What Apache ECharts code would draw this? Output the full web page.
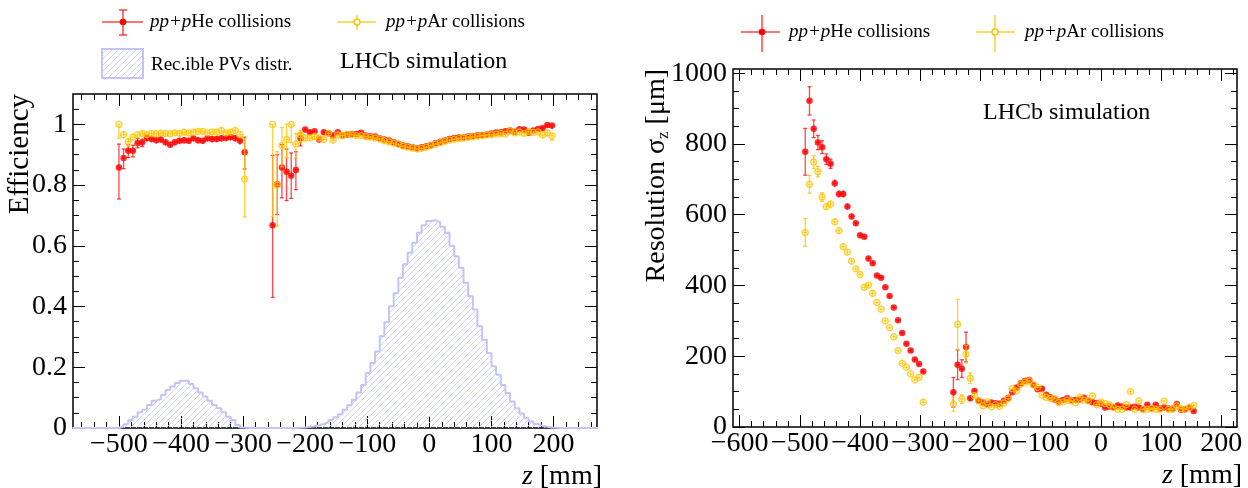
<!DOCTYPE html>
<html><head><meta charset="utf-8">
<script src="https://cdn.jsdelivr.net/npm/echarts@6/dist/echarts.min.js"></script>
<style>html,body{margin:0;padding:0;background:#fff}#c{width:1248px;height:488px}</style>
</head><body><div id="c"></div>
<script>
// ---------------- DATA ----------------
// Left panel: efficiency vs z
const effZ = [-500,-492.5,-485,-477.5,-470,-462.5,-455,-447.5,-440,-432.5,-425,-417.5,-410,-402.5,-395,-387.5,-380,-372.5,-365,-357.5,-350,-342.5,-335,-327.5,-320,-312.5,-305,-297.5,
 -252.5,-245,-237.5,-230,-222.5,-215,-207.5,-200,-192.5,-185,-177.5,-170,-162.5,-155,-147.5,-140,-132.5,-125,-117.5,-110,-102.5,-95,-87.5,-80,-72.5,-65,-57.5,-50,-42.5,-35,-27.5,-20,-12.5,-5,2.5,10,17.5,25,32.5,40,47.5,55,62.5,70,77.5,85,92.5,100,107.5,115,122.5,130,137.5,145,152.5,160,167.5,175,182.5,190,197.5];
const effHe = [0.858,0.889,0.913,0.913,0.939,0.941,0.955,0.952,0.948,0.950,0.941,0.933,0.941,0.946,0.948,0.946,0.954,0.948,0.946,0.954,0.952,0.952,0.954,0.955,0.958,0.954,0.946,0.908,
 0.668,0.803,0.858,0.844,0.831,0.850,0.954,0.983,0.974,0.977,0.950,0.974,0.971,0.963,0.974,0.963,0.966,0.968,0.968,0.972,0.963,0.961,0.960,0.954,0.950,0.947,0.941,0.936,0.930,0.928,0.925,0.921,0.925,0.928,0.932,0.938,0.943,0.947,0.952,0.955,0.957,0.957,0.960,0.962,0.964,0.965,0.967,0.970,0.973,0.974,0.977,0.980,0.976,0.984,0.983,0.972,0.980,0.985,0.988,0.998,0.996];
const effHeErrLo = [0.104,0.035,0.022,0.020,0.016,0.014,0.012,0.012,0.011,0.011,0.011,0.011,0.011,0.011,0.011,0.011,0.011,0.011,0.011,0.011,0.011,0.011,0.011,0.011,0.011,0.011,0.013,0.055,
 0.238,0.100,0.100,0.095,0.075,0.065,0.025,0.010,0.009,0.009,0.009,0.009,0.008,0.008,0.008,0.008,0.008,0.007,0.007,0.007,0.007,0.006,0.006,0.006,0.006,0.006,0.006,0.005,0.005,0.005,0.005,0.005,0.005,0.005,0.005,0.005,0.005,0.005,0.005,0.005,0.005,0.006,0.006,0.006,0.006,0.006,0.006,0.006,0.006,0.007,0.007,0.007,0.007,0.008,0.008,0.008,0.009,0.009,0.010,0.010,0.012];
const effHeErrHi = [0.077,0.030,0.020,0.018,0.015,0.013,0.011,0.011,0.010,0.010,0.010,0.010,0.010,0.010,0.010,0.010,0.010,0.010,0.010,0.010,0.010,0.010,0.010,0.010,0.010,0.010,0.012,0.050,
 0.230,0.097,0.075,0.075,0.075,0.060,0.018,0.008,0.008,0.008,0.008,0.008,0.007,0.007,0.007,0.007,0.007,0.006,0.006,0.006,0.006,0.005,0.005,0.005,0.005,0.005,0.005,0.005,0.005,0.005,0.005,0.005,0.005,0.005,0.005,0.005,0.005,0.005,0.005,0.005,0.005,0.005,0.005,0.005,0.005,0.005,0.005,0.005,0.005,0.005,0.005,0.005,0.005,0.005,0.005,0.005,0.005,0.005,0.005,0.002,0.004];
const effAr = [1.000,0.966,0.943,0.958,0.966,0.970,0.966,0.970,0.969,0.971,0.970,0.969,0.972,0.970,0.974,0.972,0.974,0.977,0.977,0.972,0.975,0.974,0.980,0.972,0.974,0.980,0.966,0.820,
 1.000,0.800,0.930,0.950,1.000,0.935,0.965,0.955,0.955,0.960,0.955,0.950,0.970,0.948,0.965,0.963,0.968,0.966,0.963,0.963,0.960,0.958,0.955,0.952,0.946,0.942,0.938,0.934,0.928,0.925,0.922,0.919,0.921,0.925,0.930,0.935,0.940,0.944,0.948,0.951,0.953,0.955,0.957,0.959,0.961,0.963,0.965,0.966,0.968,0.970,0.968,0.978,0.972,0.975,0.970,0.976,0.973,0.975,0.965,0.972,0.962];
const effArErrLo = [0.045,0.013,0.014,0.012,0.010,0.009,0.009,0.009,0.009,0.009,0.009,0.009,0.009,0.009,0.009,0.009,0.009,0.009,0.009,0.009,0.009,0.009,0.009,0.009,0.009,0.009,0.010,0.125,
 0.305,0.135,0.070,0.060,0.060,0.045,0.025,0.010,0.009,0.009,0.009,0.009,0.008,0.008,0.008,0.008,0.008,0.007,0.007,0.007,0.007,0.006,0.006,0.006,0.006,0.006,0.006,0.005,0.005,0.005,0.005,0.005,0.005,0.005,0.005,0.005,0.005,0.005,0.005,0.005,0.005,0.006,0.006,0.006,0.006,0.006,0.006,0.006,0.006,0.007,0.007,0.007,0.007,0.008,0.008,0.008,0.009,0.009,0.010,0.012,0.014];
const effArErrHi = [0.000,0.012,0.013,0.011,0.009,0.008,0.008,0.008,0.008,0.008,0.008,0.008,0.008,0.008,0.008,0.008,0.008,0.008,0.008,0.008,0.008,0.008,0.008,0.008,0.008,0.008,0.009,0.135,
 0.000,0.110,0.060,0.050,0.000,0.035,0.015,0.008,0.008,0.008,0.008,0.008,0.007,0.007,0.007,0.007,0.007,0.006,0.006,0.006,0.006,0.005,0.005,0.005,0.005,0.005,0.005,0.005,0.005,0.005,0.005,0.005,0.005,0.005,0.005,0.005,0.005,0.005,0.005,0.005,0.005,0.005,0.005,0.005,0.005,0.005,0.005,0.005,0.005,0.005,0.005,0.005,0.005,0.005,0.005,0.005,0.005,0.005,0.005,0.008,0.010];

// Reconstructible PV distribution (histogram, bins of 7.5 mm starting at -575 mm)
const histStart = -575;
const histWidth = 7.5;
const histVals = [0,0,0,0,0,0,0,0,0,0,
 0.005,0.012,0.026,0.037,0.052,0.060,0.076,0.090,0.095,0.109,0.126,0.137,0.148,0.156,0.156,0.145,0.131,0.117,0.104,0.090,0.076,0.065,0.052,0.037,0.026,0.010,0.002,
 0,0,0,0,0,0,0,0,0,0,0,
 0.001,0.002,0.004,0.006,0.009,0.013,0.018,0.026,0.035,0.045,0.060,0.075,0.093,0.117,0.142,0.181,0.214,0.252,0.302,0.348,0.401,0.445,0.495,0.539,0.577,0.610,0.643,0.668,0.682,0.684,0.678,0.663,0.643,0.600,0.566,0.528,0.478,0.434,0.390,0.335,0.291,0.247,0.203,0.175,0.142,0.115,0.087,0.065,0.048,0.032,0.021,0.013,0.007,0.004,0.002,0.001,
 0,0,0,0,0,0,0,0,0];

// Right panel: resolution vs z (um)
const resZ = [-491,-484,-477,-470,-463,-456,-449,-442,-435,-428,-421,-414,-407,-400,-393,-386,-379,-372,-365,-358,-351,-344,-337,-330,-323,-316,-309,-302,-295,
 -245,-238,-231,-224,-217,-210,-203,-196,-189,-182,-175,-168,-161,-154,-147,-140,-133,-126,-119,-112,-105,-98,-91,-84,-77,-70,-63,-56,-49,-42,-35,-28,-21,-14,-7,0,7,14,21,28,35,42,49,56,63,70,77,84,91,98,105,112,119,126,133,140,147,154];
const resHe = [778,922,843,804,791,757,744,689,659,659,623,595,576,542,538,476,463,428,422,395,370,338,302,266,235,216,191,178,157,
 98,176,165,226,81,102,74,69,64,69,67,66,74,83,98,112,124,131,133,119,107,108,91,84,78,72,76,81,76,76,78,83,74,70,68,66,55,58,55,61,58,55,55,57,55,50,63,52,63,52,55,52,52,65,49,50,55,45];
const resHeErr = [66,40,25,20,18,15,13,11,10,10,9,8,8,7,7,7,6,6,6,6,6,5,5,5,5,5,5,5,6,
 42,42,25,42,8,8,5,4,4,4,4,4,4,4,4,4,4,4,4,4,4,4,4,4,4,4,4,4,4,4,4,4,4,4,4,4,4,4,4,4,4,4,4,4,4,4,4,4,4,4,4,4,4,4,4,4,4,4];
const resAr = [550,686,749,722,650,623,630,580,555,510,494,469,447,431,395,401,378,352,333,300,281,255,216,180,169,150,133,140,70,
 65,290,79,206,138,89,74,60,71,57,63,58,68,80,108,102,121,127,130,119,112,90,84,81,81,69,71,76,74,69,84,76,74,88,63,71,66,63,55,50,50,63,100,50,74,50,50,52,50,50,73,50,50,60,52,50,55,61];
const resArErr = [39,25,18,15,12,10,10,9,8,8,7,7,7,6,6,6,6,5,5,5,5,5,5,5,4,4,4,4,5,
 21,71,12,25,15,8,5,4,4,4,4,4,4,4,4,4,4,4,4,4,4,4,4,4,4,4,4,4,4,4,4,4,4,4,4,4,4,4,4,4,4,4,6,4,4,4,4,4,4,4,4,4,4,4,4,4,4,4];

// Tick labels
const xTicksLeft = [-500,-400,-300,-200,-100,0,100,200];
const yTicksLeft = [0,0.2,0.4,0.6,0.8,1];
const xTicksRight = [-600,-500,-400,-300,-200,-100,0,100,200];
const yTicksRight = [0,200,400,600,800,1000];

// ---------------- CHART ----------------
const FONT = 'Liberation Serif';
const RED = '#ff0000', ORANGE = '#ffc400';
const RED_ERR = 'rgba(255,0,0,0.72)', OR_ERR = 'rgba(255,196,0,0.78)';
const HIST_LINE = '#c4c4f7', HATCH = '#c9c9f8';
const HATCH_STEP = 6;

function minorTicks(min, max, step, majors) {
  const out = [];
  const s = Math.ceil(min / step), e = Math.floor(max / step);
  for (let k = s; k <= e; k++) {
    const v = +(k * step).toFixed(6);
    if (!majors.some(m => Math.abs(m - v) < 1e-9)) out.push(v);
  }
  return out;
}
const minus = s => String(s).replace('-', '\u2212');

// "/" hatch lines (x + y = const lattice) clipped to a pixel rectangle
function hatchLines(x0, x1, yT, yB) {
  const out = [];
  const cStart = Math.ceil((x0 + yT) / HATCH_STEP) * HATCH_STEP;
  for (let c = cStart; c <= x1 + yB; c += HATCH_STEP) {
    const xa = Math.max(x0, c - yB), xb = Math.min(x1, c - yT);
    if (xb > xa) out.push({ type: 'line', shape: { x1: xa, y1: c - xa, x2: xb, y2: c - xb }, style: { stroke: HATCH, lineWidth: 0.8 } });
  }
  return out;
}

const cfg = [
  { xMin: -574, xMax: 270, yMin: 0, yMax: 1.1, xMaj: xTicksLeft, yMaj: yTicksLeft, xStep: 20, yStep: 0.05,
    yFmt: v => String(Math.round(v * 10) / 10) },
  { xMin: -611, xMax: 226, yMin: 0, yMax: 1012, xMaj: xTicksRight, yMaj: yTicksRight, xStep: 20, yStep: 50,
    yFmt: v => String(v) }
];
const grids = [
  { left: 73, top: 94, width: 524, height: 334 },
  { left: 733, top: 69, width: 504, height: 358 }
];

const tickLine = { color: '#000', width: 1 };
const labelStyle = { fontFamily: FONT, fontSize: 28, color: '#000' };
const xAxes = [], yAxes = [];
cfg.forEach((c, g) => {
  const base = { gridIndex: g, type: 'value', axisLine: { show: false, onZero: false }, splitLine: { show: false } };
  const xMin = minorTicks(c.xMin, c.xMax, c.xStep, c.xMaj);
  const yMin = minorTicks(c.yMin, c.yMax - 1e-9, c.yStep, c.yMaj);
  const xr = { min: c.xMin, max: c.xMax }, yr = { min: c.yMin, max: c.yMax };
  xAxes.push(Object.assign({}, base, xr, { position: 'bottom',
    axisTick: { inside: true, length: 12, customValues: c.xMaj, lineStyle: tickLine },
    axisLabel: Object.assign({ customValues: c.xMaj, margin: 3, formatter: v => minus(v) }, labelStyle),
    name: '{i|z}{n| [mm]}', nameLocation: 'end', nameGap: 5,
    nameTextStyle: { align: 'right', verticalAlign: 'top', padding: [35, 0, 0, 0],
      rich: { i: { fontFamily: FONT, fontSize: 28, fontStyle: 'italic', color: '#000' }, n: { fontFamily: FONT, fontSize: 28, color: '#000' } } } }));
  xAxes.push(Object.assign({}, base, xr, { position: 'bottom', axisTick: { inside: true, length: 6, customValues: xMin, lineStyle: tickLine }, axisLabel: { show: false } }));
  xAxes.push(Object.assign({}, base, xr, { position: 'top', axisTick: { inside: true, length: 12, customValues: c.xMaj, lineStyle: tickLine }, axisLabel: { show: false } }));
  xAxes.push(Object.assign({}, base, xr, { position: 'top', axisTick: { inside: true, length: 6, customValues: xMin, lineStyle: tickLine }, axisLabel: { show: false } }));

  yAxes.push(Object.assign({}, base, yr, { position: 'left',
    axisTick: { inside: true, length: 12, customValues: c.yMaj, lineStyle: tickLine },
    axisLabel: Object.assign({ customValues: c.yMaj, margin: 6, formatter: c.yFmt }, labelStyle) }));
  yAxes.push(Object.assign({}, base, yr, { position: 'left', axisTick: { inside: true, length: 6, customValues: yMin, lineStyle: tickLine }, axisLabel: { show: false } }));
  yAxes.push(Object.assign({}, base, yr, { position: 'right', axisTick: { inside: true, length: 12, customValues: c.yMaj, lineStyle: tickLine }, axisLabel: { show: false } }));
  yAxes.push(Object.assign({}, base, yr, { position: 'right', axisTick: { inside: true, length: 6, customValues: yMin, lineStyle: tickLine }, axisLabel: { show: false } }));
});

function errRender(color, halfBin) {
  return function (params, api) {
    const z = api.value(0), v = api.value(1), lo = api.value(2), hi = api.value(3);
    const p = api.coord([z, v]), a = api.coord([z, lo]), b = api.coord([z, hi]);
    const l = api.coord([z - halfBin, v]), r = api.coord([z + halfBin, v]);
    const st = { stroke: color, lineWidth: 1.3 };
    const ch = [
      { type: 'line', shape: { x1: p[0], y1: a[1], x2: p[0], y2: b[1] }, style: st },
      { type: 'line', shape: { x1: l[0], y1: p[1], x2: r[0], y2: p[1] }, style: st }
    ];
    if (a[1] - p[1] > 4) ch.push({ type: 'line', shape: { x1: p[0] - 2, y1: a[1], x2: p[0] + 2, y2: a[1] }, style: st });
    if (p[1] - b[1] > 4) ch.push({ type: 'line', shape: { x1: p[0] - 2, y1: b[1], x2: p[0] + 2, y2: b[1] }, style: st });
    return { type: 'group', children: ch };
  };
}
function hatchRender(params, api) {
  const v = api.value(2);
  if (!(v > 0)) return null;
  const a = api.coord([api.value(0), v]), b = api.coord([api.value(1), 0]);
  return { type: 'group', children: hatchLines(a[0], b[0], a[1], b[1]) };
}
function errData(zs, vs, lo, hi) { return zs.map((z, i) => [z, vs[i], vs[i] - lo[i], vs[i] + hi[i]]); }
function ptData(zs, vs) { return zs.map((z, i) => [z, vs[i]]); }

const histStep = histVals.map((v, i) => [histStart + i * histWidth, v]);
histStep.push([histStart + histVals.length * histWidth, 0]);
const histBins = histVals.map((v, i) => [histStart + i * histWidth, histStart + (i + 1) * histWidth, v]);

const redSym = { symbol: 'circle', symbolSize: 6.5, itemStyle: { color: RED } };
const orSym = { symbol: 'circle', symbolSize: 6, itemStyle: { color: 'rgba(255,255,255,0)', borderColor: ORANGE, borderWidth: 1.4 } };

const series = [
  { type: 'custom', xAxisIndex: 0, yAxisIndex: 0, data: histBins, renderItem: hatchRender, encode: { x: [0, 1], y: 2 }, silent: true, clip: true, z: 1 },
  { type: 'line', xAxisIndex: 0, yAxisIndex: 0, data: histStep, step: 'end', symbol: 'none', silent: true,
    lineStyle: { color: HIST_LINE, width: 2 }, z: 1 },
  { type: 'custom', xAxisIndex: 0, yAxisIndex: 0, data: errData(effZ, effHe, effHeErrLo, effHeErrHi), renderItem: errRender(RED_ERR, 3.75), encode: { x: 0, y: 1 }, silent: true, z: 2 },
  Object.assign({ type: 'scatter', xAxisIndex: 0, yAxisIndex: 0, data: ptData(effZ, effHe), silent: true, z: 3 }, redSym),
  { type: 'custom', xAxisIndex: 0, yAxisIndex: 0, data: errData(effZ, effAr, effArErrLo, effArErrHi), renderItem: errRender(OR_ERR, 3.75), encode: { x: 0, y: 1 }, silent: true, z: 4 },
  Object.assign({ type: 'scatter', xAxisIndex: 0, yAxisIndex: 0, data: ptData(effZ, effAr), silent: true, z: 5 }, orSym),

  { type: 'custom', xAxisIndex: 4, yAxisIndex: 4, data: errData(resZ, resHe, resHeErr, resHeErr), renderItem: errRender(RED_ERR, 3.5), encode: { x: 0, y: 1 }, silent: true, z: 2 },
  Object.assign({ type: 'scatter', xAxisIndex: 4, yAxisIndex: 4, data: ptData(resZ, resHe), silent: true, z: 3 }, redSym),
  { type: 'custom', xAxisIndex: 4, yAxisIndex: 4, data: errData(resZ, resAr, resArErr, resArErr), renderItem: errRender(OR_ERR, 3.5), encode: { x: 0, y: 1 }, silent: true, z: 4 },
  Object.assign({ type: 'scatter', xAxisIndex: 4, yAxisIndex: 4, data: ptData(resZ, resAr), silent: true, z: 5 }, orSym)
];

// legend / annotation / axis-title graphics
const legRich = { i: { fontFamily: FONT, fontSize: 19, fontStyle: 'italic', fill: '#000' }, n: { fontFamily: FONT, fontSize: 19, fill: '#000' } };
function legText(x, y, str) {
  return { type: 'text', x: x, y: y, style: { text: str, rich: legRich, verticalAlign: 'middle', align: 'left' } };
}
function ln(x1, y1, x2, y2, c, w) { return { type: 'line', shape: { x1, y1, x2, y2 }, style: { stroke: c, lineWidth: w || 1.5 } }; }
const graphic = [
  // y-axis titles
  { type: 'text', x: 20, y: 94, rotation: Math.PI / 2,
    style: { text: 'Efficiency', fontFamily: FONT, fontSize: 29, fill: '#000', align: 'right', verticalAlign: 'middle' } },
  { type: 'text', x: 657, y: 69, rotation: Math.PI / 2,
    style: { text: '{n|Resolution \u03c3}{s|z}{n| [\u03bcm]}', align: 'right', verticalAlign: 'middle',
      rich: { n: { fontFamily: FONT, fontSize: 28, fill: '#000', lineHeight: 30 }, s: { fontFamily: FONT, fontSize: 17, fill: '#000', lineHeight: 14, verticalAlign: 'bottom' } } } },
  // left legend
  ln(102, 22, 143, 22, RED_ERR), ln(123, 10, 123, 35, RED_ERR), ln(119, 10, 127, 10, RED_ERR), ln(119, 35, 127, 35, RED_ERR),
  { type: 'circle', shape: { cx: 123, cy: 22, r: 3.3 }, style: { fill: RED } },
  legText(150, 22, '{i|pp+p}{n|He collisions}'),
  ln(337, 22, 376, 22, OR_ERR), ln(357, 15, 357, 30, OR_ERR),
  { type: 'circle', shape: { cx: 357, cy: 22, r: 3 }, style: { fill: '#fff', stroke: ORANGE, lineWidth: 1.4 } },
  legText(386, 22, '{i|pp+p}{n|Ar collisions}'),
  { type: 'group', children: hatchLines(102, 143, 49, 78) },
  { type: 'rect', shape: { x: 102, y: 49, width: 41, height: 29 }, style: { fill: 'none', stroke: HIST_LINE, lineWidth: 2 } },
  { type: 'text', x: 151, y: 65, style: { text: 'Rec.ible PVs distr.', fontFamily: FONT, fontSize: 19, fill: '#000', verticalAlign: 'middle' } },
  { type: 'text', x: 340, y: 62, style: { text: 'LHCb simulation', fontFamily: FONT, fontSize: 24, fill: '#000', verticalAlign: 'middle' } },
  // right legend
  ln(741, 32, 780, 32, RED_ERR), ln(762, 15, 762, 52, RED_ERR),
  { type: 'circle', shape: { cx: 762, cy: 32, r: 3.3 }, style: { fill: RED } },
  legText(789, 32, '{i|pp+p}{n|He collisions}'),
  ln(976, 32, 1015, 32, OR_ERR), ln(995, 15, 995, 52, OR_ERR),
  { type: 'circle', shape: { cx: 995, cy: 32, r: 3 }, style: { fill: '#fff', stroke: ORANGE, lineWidth: 1.4 } },
  legText(1025, 32, '{i|pp+p}{n|Ar collisions}'),
  { type: 'text', x: 983, y: 113, style: { text: 'LHCb simulation', fontFamily: FONT, fontSize: 24, fill: '#000', verticalAlign: 'middle' } }
];

const chart = echarts.init(document.getElementById('c'), null, { renderer: 'canvas' });
chart.setOption({
  animation: false,
  backgroundColor: '#fff',
  textStyle: { fontFamily: FONT },
  grid: grids.map(g => Object.assign({ show: true, borderColor: '#000', borderWidth: 1.5, backgroundColor: 'rgba(0,0,0,0)',
    containLabel: false, outerBoundsMode: 'none' }, g)),
  xAxis: xAxes,
  yAxis: yAxes,
  series: series,
  graphic: graphic
});
</script></body></html>
